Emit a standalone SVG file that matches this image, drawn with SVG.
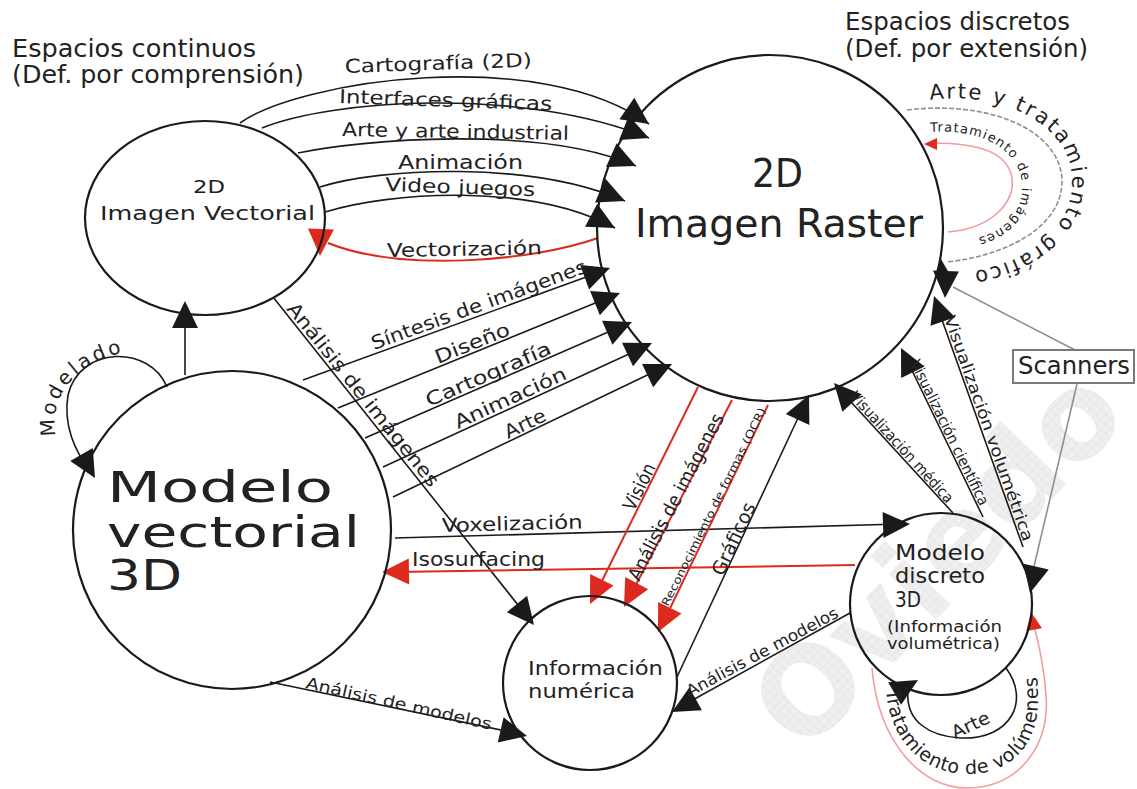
<svg xmlns="http://www.w3.org/2000/svg" xmlns:xlink="http://www.w3.org/1999/xlink" width="1137" height="789" viewBox="0 0 1137 789">
<style>
  text { font-family: "DejaVu Sans", "Liberation Sans", sans-serif; fill: #222; }
  .node { fill: none; stroke: #1a1a1a; stroke-width: 2.2; }
  .ln { fill: none; stroke: #1a1a1a; stroke-width: 1.6; }
  .red { fill: none; stroke: #dc2a1e; stroke-width: 2; }
  .pink { fill: none; stroke: #f29d9d; stroke-width: 1.6; }
  .gray { fill: none; stroke: #8f8f8f; stroke-width: 1.6; }
  .dash { stroke-dasharray: 5 2; }
  .ah { fill: #1a1a1a; }
  .ahr { fill: #dc2a1e; }
  .lbl { font-size: 19px; }
  .sm { font-size: 15px; }
  .title { font-size: 24px; }
  .wm { font-size: 120px; font-weight: bold; fill: url(#hatch); }
</style>
<defs>
  <path id="ah" d="M0,0 L-27,-13 L-27,13 Z"/>
  <path id="ahm" d="M0,0 L-18,-8 L-18,8 Z"/>
  <path id="ahs" d="M0,0 L-13,-6 L-13,6 Z"/>
  <pattern id="hatch" width="7" height="7" patternUnits="userSpaceOnUse">
    <rect width="7" height="7" fill="#efefef"/>
    <path d="M0,0H7M0,0V7" stroke="#e0e0e0" stroke-width="1"/>
  </pattern>
  <path id="tp-modelado" d="M56,436 C46,388 90,348 156,350"/>
  <path id="tp-artegraf" d="M930,100 C1002,90 1070,125 1072,178 C1074,228 1030,262 970,272"/>
  <path id="tp-tratimg" d="M930,132 C990,128 1022,156 1022,186 C1022,216 1002,240 944,243"/>
  <path id="tp-tratvol" d="M886,690 C890,745 928,776 972,774 C1014,772 1038,742 1038,700 C1038,680 1036,665 1034,650"/>
</defs>

<rect width="1137" height="789" fill="#ffffff"/>

<!-- watermark -->
<text class="wm" transform="translate(804,756) rotate(-46)" textLength="470" lengthAdjust="spacingAndGlyphs">Oviedo</text>

<!-- section titles -->
<g id="titles">
  <text class="title" x="12" y="57" textLength="244" lengthAdjust="spacingAndGlyphs">Espacios continuos</text>
  <text class="title" x="12" y="83" textLength="292" lengthAdjust="spacingAndGlyphs">(Def. por comprensión)</text>
  <text class="title" x="845" y="30" textLength="225" lengthAdjust="spacingAndGlyphs">Espacios discretos</text>
  <text class="title" x="845" y="57" textLength="243" lengthAdjust="spacingAndGlyphs">(Def. por extensión)</text>
</g>

<!-- connectors -->
<g id="connectors">
  <!-- 2D vectorial to raster -->
  <path class="ln" d="M240,123 C300,80 540,45 649,124"/>
  <path class="ln" d="M262,128 C330,100 520,86 649,138"/>
  <path class="ln" d="M298,153 C360,140 540,124 636,166"/>
  <path class="ln" d="M320,187 C380,168 530,160 625,201"/>
  <path class="ln" d="M325,212 C390,192 530,182 615,228"/>
  <path class="red" d="M598,238 C530,262 400,272 328,243"/>

  <!-- 3D vectorial model to raster -->
  <path class="ln" d="M303,380 L600,272"/>
  <path class="ln" d="M338,408 L610,297"/>
  <path class="ln" d="M365,438 L622,326"/>
  <path class="ln" d="M383,467 L642,348"/>
  <path class="ln" d="M393,497 L662,368"/>

  <!-- model to 2D vectorial, and image analysis -->
  <path class="ln" d="M185,375 L185,305"/>
  <path class="ln" d="M273,297 L530,620"/>
  <path class="ln" d="M167,387 C150,345 80,345 68,395 C63,425 75,452 90,470"/>

  <!-- 3D vector model / discrete model -->
  <path class="ln" d="M395,538 L900,524"/>
  <path class="red" d="M855,565 L395,572"/>

  <!-- raster to numeric information -->
  <path class="red" d="M698,387 L594,597"/>
  <path class="red" d="M732,400 L628,600"/>
  <path class="red" d="M768,405 L662,625"/>
  <path class="ln" d="M677,677 L805,403"/>

  <!-- model analysis -->
  <path class="ln" d="M850,613 L680,707"/>
  <path class="ln" d="M270,682 L520,734"/>

  <!-- visualisation -->
  <path class="ln" d="M953,513 L840,390"/>
  <path class="ln" d="M983,517 L905,356"/>
  <path class="ln" d="M1023,547 L936,303"/>

  <!-- scanners -->
  <path class="gray" d="M1075,350 L953,287"/>
  <path class="gray" d="M1077,384 L1032,575"/>

  <!-- raster self loops -->
  <path class="gray dash" d="M907,110 C990,100 1060,130 1062,180 C1063,225 1010,255 947,262"/>
  <path class="pink" d="M948,232 C995,228 1015,200 1012,178 C1008,155 985,143 932,143"/>

  <!-- discrete model self loops -->
  <path class="ln" d="M1006,668 C1030,700 1012,740 960,738 C930,736 905,722 908,690"/>
  <path class="pink" d="M872,668 C878,740 920,790 970,788 C1020,786 1050,745 1046,695 C1044,665 1038,640 1033,622"/>

  <!-- arrowheads -->
  <use href="#ah" class="ah" transform="translate(649,124) rotate(35)"/>
  <use href="#ah" class="ah" transform="translate(649,138) rotate(22)"/>
  <use href="#ah" class="ah" transform="translate(636,166) rotate(24)"/>
  <use href="#ah" class="ah" transform="translate(625,201) rotate(23)"/>
  <use href="#ah" class="ah" transform="translate(615,228) rotate(28)"/>
  <use href="#ah" class="ahr" transform="translate(320,256) rotate(92)"/>

  <use href="#ah" class="ah" transform="translate(610,268) rotate(-20)"/>
  <use href="#ah" class="ah" transform="translate(620,293) rotate(-22)"/>
  <use href="#ah" class="ah" transform="translate(632,322) rotate(-23.5)"/>
  <use href="#ah" class="ah" transform="translate(652,343) rotate(-25)"/>
  <use href="#ah" class="ah" transform="translate(672,364) rotate(-25.5)"/>

  <use href="#ah" class="ah" transform="translate(185,301) rotate(-90)"/>
  <use href="#ah" class="ah" transform="translate(534,625) rotate(51)"/>
  <use href="#ah" class="ah" transform="translate(95,478) rotate(60)"/>

  <use href="#ah" class="ah" transform="translate(910,524) rotate(-2)"/>
  <use href="#ah" class="ahr" transform="translate(382,572) rotate(179)"/>

  <use href="#ah" class="ahr" transform="translate(590,604) rotate(116)"/>
  <use href="#ah" class="ahr" transform="translate(624,607) rotate(118)"/>
  <use href="#ah" class="ahr" transform="translate(658,632) rotate(116)"/>
  <use href="#ah" class="ah" transform="translate(809,395) rotate(-65)"/>

  <use href="#ah" class="ah" transform="translate(672,712) rotate(151)"/>
  <use href="#ah" class="ah" transform="translate(527,736) rotate(13)"/>

  <use href="#ah" class="ah" transform="translate(834,383) rotate(-132)"/>
  <use href="#ah" class="ah" transform="translate(901,348) rotate(-116)"/>
  <use href="#ah" class="ah" transform="translate(934,296) rotate(-109)"/>

  <use href="#ah" class="ah" transform="translate(945,298) rotate(92)"/>
  <use href="#ah" class="ah" transform="translate(1030,593) rotate(103)"/>

  <use href="#ahs" class="ah" transform="translate(941,259) rotate(-95)"/>
  <use href="#ahs" class="ahr" transform="translate(924,144) rotate(180)"/>
  <use href="#ah" class="ah" transform="translate(918,680) rotate(-30)"/>
  <use href="#ahm" class="ahr" transform="translate(1031,612) rotate(-100)"/>

  <!-- connector labels -->
  <text class="lbl" transform="translate(345,73) rotate(-2)" textLength="187" lengthAdjust="spacingAndGlyphs">Cartografía (2D)</text>
  <text class="lbl" transform="translate(339,103) rotate(2)" textLength="213" lengthAdjust="spacingAndGlyphs">Interfaces gráficas</text>
  <text class="lbl" transform="translate(342,136) rotate(1)" textLength="227" lengthAdjust="spacingAndGlyphs">Arte y arte industrial</text>
  <text class="lbl" transform="translate(398,169)" textLength="125" lengthAdjust="spacingAndGlyphs">Animación</text>
  <text class="lbl" transform="translate(385,191) rotate(2)" textLength="150" lengthAdjust="spacingAndGlyphs">Video juegos</text>
  <text class="lbl" transform="translate(387,257) rotate(-1)" textLength="155" lengthAdjust="spacingAndGlyphs">Vectorización</text>

  <text class="lbl" transform="translate(374,350) rotate(-20)" textLength="228" lengthAdjust="spacingAndGlyphs">Síntesis de imágenes</text>
  <text class="lbl" transform="translate(438,364) rotate(-22)" textLength="79" lengthAdjust="spacingAndGlyphs">Diseño</text>
  <text class="lbl" transform="translate(429,407) rotate(-23.5)" textLength="135" lengthAdjust="spacingAndGlyphs">Cartografía</text>
  <text class="lbl" transform="translate(458,429) rotate(-24.7)" textLength="121" lengthAdjust="spacingAndGlyphs">Animación</text>
  <text class="lbl" transform="translate(508,439) rotate(-25.5)" textLength="44" lengthAdjust="spacingAndGlyphs">Arte</text>

  <text class="lbl" transform="translate(286,309) rotate(51.2)" textLength="230" lengthAdjust="spacingAndGlyphs">Análisis de imágenes</text>
  <text class="lbl" transform="translate(442,532) rotate(-1.5)" textLength="141" lengthAdjust="spacingAndGlyphs">Voxelización</text>
  <text class="lbl" transform="translate(412,566)" textLength="133" lengthAdjust="spacingAndGlyphs">Isosurfacing</text>

  <text class="lbl" transform="translate(634,512) rotate(-63.7)" textLength="50" lengthAdjust="spacingAndGlyphs">Visión</text>
  <text class="lbl" transform="translate(639,582) rotate(-62.5)" textLength="185" lengthAdjust="spacingAndGlyphs">Análisis de imágenes</text>
  <text style="font-size:11px" transform="translate(668,607) rotate(-63.5)" textLength="220" lengthAdjust="spacingAndGlyphs">Reconocimiento de formas (OCR)</text>
  <text class="lbl" transform="translate(723,577) rotate(-65)" textLength="78" lengthAdjust="spacingAndGlyphs">Gráficos</text>

  <text class="sm" transform="translate(849,397) rotate(47.5)" textLength="145" lengthAdjust="spacingAndGlyphs">Visualización médica</text>
  <text class="sm" transform="translate(910,363) rotate(64)" textLength="160" lengthAdjust="spacingAndGlyphs">Visualización científica</text>
  <text style="font-size:16px" transform="translate(944,318) rotate(70.5)" textLength="238" lengthAdjust="spacingAndGlyphs">Visualización volumétrica</text>

  <text style="font-size:16px" transform="translate(690,697) rotate(-28.3)" textLength="170" lengthAdjust="spacingAndGlyphs">Análisis de modelos</text>
  <text style="font-size:16px" transform="translate(305,688) rotate(12.7)" textLength="190" lengthAdjust="spacingAndGlyphs">Análisis de modelos</text>
  <text style="font-size:18px" transform="translate(955,739) rotate(-25)" textLength="40" lengthAdjust="spacingAndGlyphs">Arte</text>

  <text style="font-size:20px" letter-spacing="3"><textPath href="#tp-modelado">Modelado</textPath></text>
  <text style="font-size:21px" letter-spacing="2.2"><textPath href="#tp-artegraf">Arte y tratamiento gráfico</textPath></text>
  <text style="font-size:13px" letter-spacing="1.2"><textPath href="#tp-tratimg">Tratamiento de imágenes</textPath></text>
  <text style="font-size:19px" letter-spacing="0.6"><textPath href="#tp-tratvol">Tratamiento de volúmenes</textPath></text>
</g>

<!-- nodes -->
<g id="imagen-vectorial">
  <ellipse class="node" cx="205" cy="218" rx="120" ry="97"/>
  <text x="193" y="193" style="font-size:18px" textLength="32" lengthAdjust="spacingAndGlyphs">2D</text>
  <text x="100" y="220" style="font-size:20px" textLength="215" lengthAdjust="spacingAndGlyphs">Imagen Vectorial</text>
</g>

<g id="imagen-raster">
  <circle class="node" cx="770" cy="228" r="173"/>
  <text x="752" y="187" style="font-size:39px" textLength="51" lengthAdjust="spacingAndGlyphs">2D</text>
  <text x="635" y="237" style="font-size:39px" textLength="288" lengthAdjust="spacingAndGlyphs">Imagen Raster</text>
</g>

<g id="modelo-vectorial-3d">
  <circle class="node" cx="232" cy="530" r="159"/>
  <text x="107" y="502" style="font-size:43px" textLength="226" lengthAdjust="spacingAndGlyphs">Modelo</text>
  <text x="107" y="547" style="font-size:43px" textLength="253" lengthAdjust="spacingAndGlyphs">vectorial</text>
  <text x="107" y="590" style="font-size:43px" textLength="75" lengthAdjust="spacingAndGlyphs">3D</text>
</g>

<g id="informacion-numerica">
  <circle class="node" cx="590" cy="683" r="87"/>
  <text x="528" y="675" style="font-size:20px" textLength="135" lengthAdjust="spacingAndGlyphs">Información</text>
  <text x="528" y="698" style="font-size:20px" textLength="107" lengthAdjust="spacingAndGlyphs">numérica</text>
</g>

<g id="modelo-discreto-3d">
  <circle class="node" cx="941" cy="604" r="91"/>
  <text x="895" y="560" style="font-size:21px" textLength="90" lengthAdjust="spacingAndGlyphs">Modelo</text>
  <text x="895" y="583" style="font-size:21px" textLength="90" lengthAdjust="spacingAndGlyphs">discreto</text>
  <text x="895" y="607" style="font-size:21px" textLength="26" lengthAdjust="spacingAndGlyphs">3D</text>
  <text x="887" y="632" style="font-size:15px" textLength="115" lengthAdjust="spacingAndGlyphs">(Información</text>
  <text x="887" y="649" style="font-size:15px" textLength="113" lengthAdjust="spacingAndGlyphs">volumétrica)</text>
</g>

<g id="scanners">
  <rect x="1013" y="350" width="121" height="33" fill="#fff" stroke="#7a7a7a" stroke-width="2"/>
  <text x="1018" y="374" style="font-size:24px" textLength="112" lengthAdjust="spacingAndGlyphs">Scanners</text>
</g>
</svg>
